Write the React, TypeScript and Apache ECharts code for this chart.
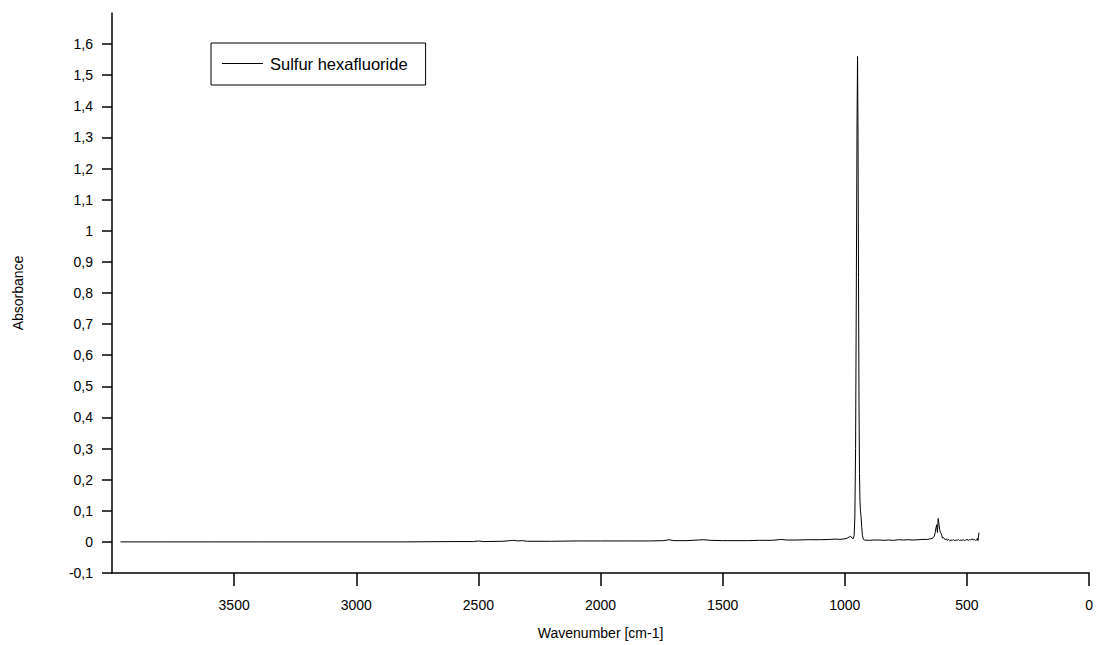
import React, { useEffect, useRef } from "react";
import * as echarts from "echarts";

const seriesName = "Sulfur hexafluoride";

const wavenumbers = [
  3965, 3800, 3600, 3400, 3200, 3000, 2800, 2600, 2520, 2500, 2480, 2400, 2370, 2355, 2340, 2320, 2300,
  2200, 2100, 2000, 1900, 1800, 1740, 1720, 1700, 1650, 1600, 1580, 1550, 1500, 1450, 1400, 1350,
  1300, 1270, 1260, 1240, 1200, 1150, 1100, 1060, 1040, 1020, 1000, 990, 982, 976, 970, 966,
  962, 959, 956, 953, 950, 948, 946, 944, 942, 940, 938, 936, 934, 931, 928, 924, 920, 900,
  880, 860, 840, 820, 800, 780, 760, 740, 720, 700, 680, 660, 650, 640, 634, 630, 627, 624,
  621, 618, 615, 612, 609, 606, 603, 600, 596, 592, 588, 584, 580, 575, 570, 565, 560, 555,
  550, 545, 540, 535, 530, 525, 520, 515, 510, 505, 500, 495, 490, 485, 480, 475, 470, 465,
  460, 457, 455, 453, 451,
];

const absorbance = [
  0.0, 0.0, 0.0, 0.0, 0.0, 0.0, 0.0, 0.001, 0.001, 0.003, 0.001, 0.002, 0.004, 0.005, 0.003, 0.004, 0.002,
  0.002, 0.003, 0.003, 0.003, 0.003, 0.004, 0.007, 0.004, 0.004, 0.006, 0.007, 0.005, 0.004, 0.004, 0.004, 0.005,
  0.005, 0.007, 0.008, 0.006, 0.006, 0.007, 0.007, 0.008, 0.009, 0.008, 0.01, 0.012, 0.016, 0.018, 0.012, 0.01,
  0.02, 0.08, 0.3, 0.8, 1.35, 1.56, 1.3, 0.85, 0.45, 0.22, 0.13, 0.1, 0.085, 0.05, 0.02, 0.008, 0.006, 0.005,
  0.006, 0.006, 0.005, 0.006, 0.005, 0.007, 0.006, 0.007, 0.006, 0.007, 0.008, 0.008, 0.01, 0.012, 0.018, 0.03, 0.045, 0.055,
  0.03, 0.075, 0.06, 0.04, 0.03, 0.028, 0.02, 0.012, 0.014, 0.01, 0.006, 0.01, 0.005, 0.008, 0.004, 0.006, 0.005, 0.007,
  0.004, 0.006, 0.005, 0.008, 0.004, 0.006, 0.005, 0.007, 0.004, 0.006, 0.008, 0.005, 0.007, 0.006, 0.01, 0.006, 0.008, 0.005,
  0.006, 0.012, 0.004, 0.015, 0.03,
];

const xTicks = [0, 500, 1000, 1500, 2000, 2500, 3000, 3500];
const yTicks = [-0.1, 0, 0.1, 0.2, 0.3, 0.4, 0.5, 0.6, 0.7, 0.8, 0.9, 1, 1.1, 1.2, 1.3, 1.4, 1.5, 1.6];

const FONT = "'Liberation Sans', Arial, sans-serif";

function fmtComma(v: number): string {
  return String(Number(v.toFixed(1))).replace(".", ",");
}

export default function App() {
  const ref = useRef<HTMLDivElement>(null);

  useEffect(() => {
    if (!ref.current) return;
    const chart = echarts.init(ref.current, undefined, { renderer: "svg" });
    const data = wavenumbers.map((w, i) => [w, absorbance[i]]);
    chart.setOption({
      animation: false,
      backgroundColor: "#ffffff",
      textStyle: { fontFamily: FONT },
      grid: { left: 112, right: 4, top: 13, bottom: 71, containLabel: false },
      legend: {
        show: true,
        left: 211,
        top: 43,
        orient: "horizontal",
        padding: [12, 18, 13, 11],
        borderColor: "#000",
        borderWidth: 1,
        borderRadius: 0,
        icon: "rect",
        itemWidth: 41,
        itemHeight: 1,
        itemGap: 6,
        textStyle: { color: "#000", fontSize: 16.5, fontFamily: FONT, padding: [0, 0, 0, 2] },
        data: [seriesName],
      },
      xAxis: {
        type: "value",
        inverse: true,
        min: 0,
        max: 4000,
        interval: 500,
        name: "Wavenumber [cm-1]",
        nameLocation: "middle",
        nameGap: 53,
        nameTextStyle: { color: "#000", fontSize: 14, fontFamily: FONT },
        axisLine: { show: true, onZero: false, lineStyle: { color: "#000", width: 1.5 } },
        axisTick: { show: true, length: 13, customValues: xTicks, lineStyle: { color: "#000", width: 1.5 } },
        axisLabel: {
          color: "#000",
          fontSize: 14,
          fontFamily: FONT,
          margin: 25,
          customValues: xTicks,
          formatter: (v: number) => String(v),
        },
        splitLine: { show: false },
      },
      yAxis: {
        type: "value",
        min: -0.1,
        max: 1.7,
        interval: 0.1,
        name: "Absorbance",
        nameLocation: "middle",
        nameGap: 87,
        nameRotate: 90,
        nameTextStyle: { color: "#000", fontSize: 14, fontFamily: FONT },
        axisLine: { show: true, onZero: false, lineStyle: { color: "#000", width: 1.5 } },
        axisTick: { show: true, length: 10, customValues: yTicks, lineStyle: { color: "#000", width: 1.5 } },
        axisLabel: {
          color: "#000",
          fontSize: 14,
          fontFamily: FONT,
          margin: 19,
          customValues: yTicks,
          formatter: (v: number) => fmtComma(v),
        },
        splitLine: { show: false },
      },
      series: [
        {
          name: seriesName,
          type: "line",
          data,
          showSymbol: false,
          symbol: "none",
          lineStyle: { color: "#000", width: 1 },
          itemStyle: { color: "#000" },
          z: 3,
        },
      ],
    });
    return () => chart.dispose();
  }, []);

  return (
    <div
      ref={ref}
      style={{ position: "absolute", left: 0, top: 0, width: 1096, height: 645, background: "#fff" }}
    />
  );
}
